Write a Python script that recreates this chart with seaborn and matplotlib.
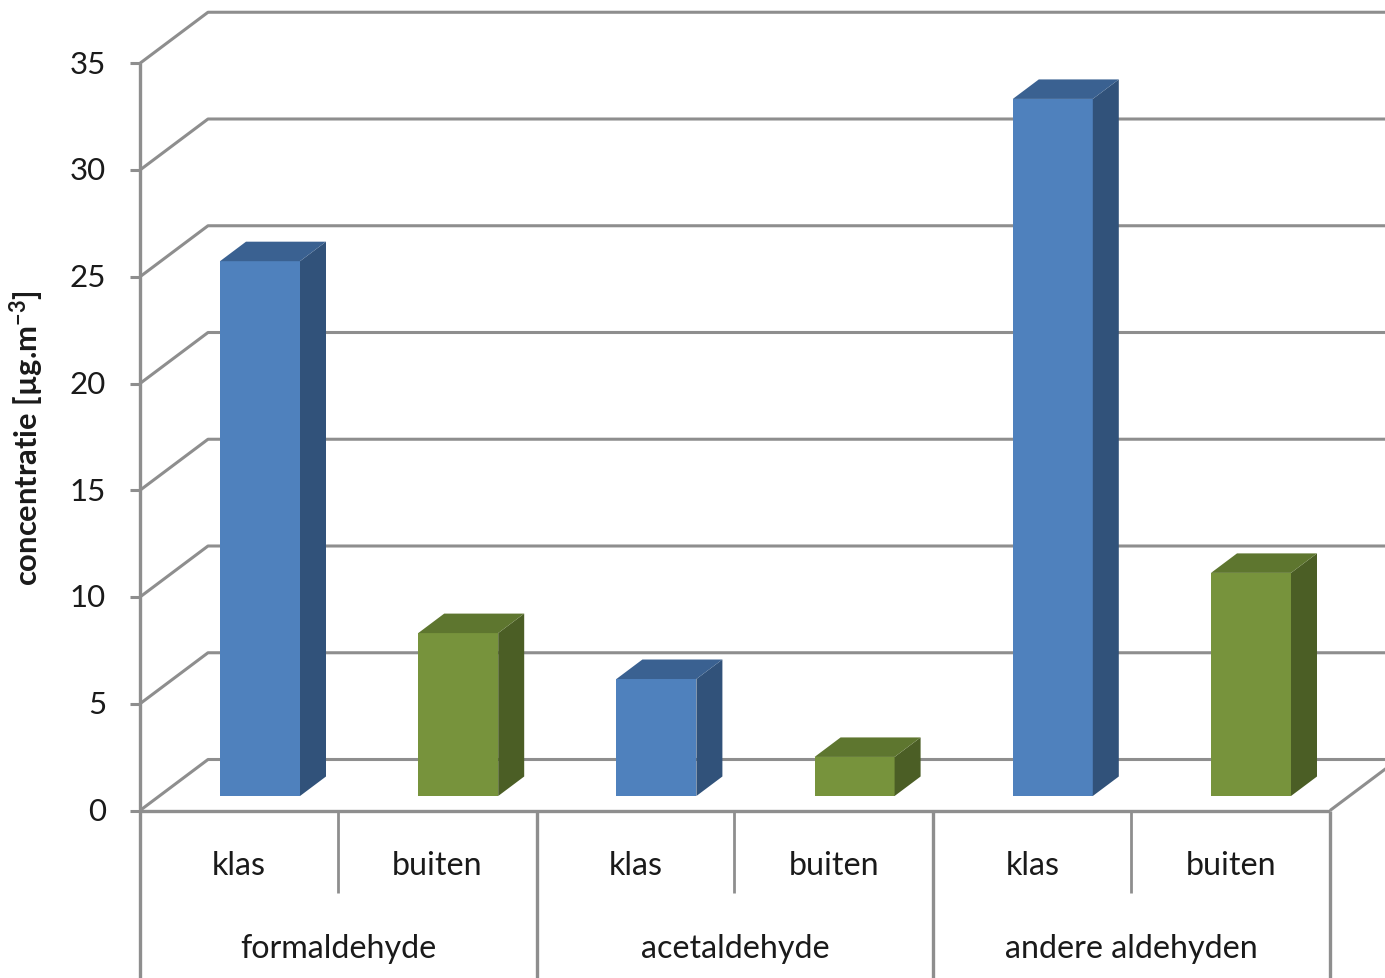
import matplotlib
matplotlib.use("Agg")
import matplotlib.pyplot as plt
import pandas as pd
import seaborn as sns
from matplotlib.patches import Polygon

# Aldehyde concentrations per location
groups = ["formaldehyde", "acetaldehyde", "andere aldehyden"]
locations = ["klas", "buiten"]
klas_values = [25.05, 5.48, 32.65]
buiten_values = [7.63, 1.83, 10.45]
y_ticks = [0, 5, 10, 15, 20, 25, 30, 35]

FRONT = {"klas": "#4F81BD", "buiten": "#77933C"}
SIDE = {"klas": "#31527A", "buiten": "#4B5E25"}
TOP = {"klas": "#3A6191", "buiten": "#5E762F"}
LINE = "#8E8E8E"
INK = "#1A1A1A"

W, H = 1385, 979
X_UNIT, Y_UNIT = 198.2, 21.35   # pixels per category / per concentration unit
X_ORIGIN, Y_ORIGIN = 260.0, 797.0  # pixel position of first bar centre and bar base

rows = []
for g, k, b in zip(groups, klas_values, buiten_values):
    rows.append({"bar": f"{g} klas", "location": "klas", "value": k})
    rows.append({"bar": f"{g} buiten", "location": "buiten", "value": b})
df = pd.DataFrame(rows)

sns.set_theme(style="white")
plt.rcParams["font.family"] = ["Lato", "DejaVu Sans"]
plt.rcParams["mathtext.default"] = "regular"

fig = plt.figure(figsize=(W / 100, H / 100), dpi=100, facecolor="white")
ax = fig.add_axes([0, 0, 1, 1])

BAR_W = 80 / X_UNIT
sns.barplot(data=df, x="bar", y="value", hue="location", palette=FRONT,
            dodge=False, width=BAR_W, legend=False, saturation=1, ax=ax, zorder=4,
            linewidth=0, edgecolor="none")

ax.set_xlim(-X_ORIGIN / X_UNIT, (W - X_ORIGIN) / X_UNIT)
ax.set_ylim((Y_ORIGIN - H) / Y_UNIT, Y_ORIGIN / Y_UNIT)
ax.axis("off")

# Depth of the bars and of the floor, in data units
bar_dx, bar_dy = 26 / X_UNIT, 19.5 / Y_UNIT
left = (140 - X_ORIGIN) / X_UNIT
right = (1330 - X_ORIGIN) / X_UNIT
floor_dx, floor_dy = 68 / X_UNIT, 51 / Y_UNIT
front_zero = -14.5 / Y_UNIT
tick_len = 10 / X_UNIT


def line(xs, ys, lw=2.2, z=2):
    ax.plot(xs, ys, color=LINE, lw=lw, zorder=z, solid_capstyle="butt", clip_on=True)


# Back wall gridlines with their diagonals running to the value axis
for t in y_ticks:
    yf = front_zero + t
    yb = yf + floor_dy
    line([left, left + floor_dx, (W - X_ORIGIN) / X_UNIT], [yf, yb, yb])
    line([left - tick_len, left], [yf, yf])
    ax.text(left - 34 / X_UNIT, yf - 0.02, str(t), ha="right", va="center",
            fontsize=22.5, color=INK)

# Value axis and floor edge
line([left, left], [front_zero + y_ticks[-1], (Y_ORIGIN - H) / Y_UNIT], lw=2.4, z=3)
line([left, right], [front_zero, front_zero], lw=2.4, z=3)
line([right, right + floor_dx * 0.82], [front_zero, front_zero + floor_dy * 0.82], lw=2.2)

# Multi-level category axis
bottom = (Y_ORIGIN - H) / Y_UNIT
row_sep = (Y_ORIGIN - 894) / Y_UNIT
for i, g in enumerate(groups):
    x0 = left + i * 2.0 * (right - left) / 6
    x1 = left + (i + 1) * 2.0 * (right - left) / 6
    xm = (x0 + x1) / 2
    line([xm - 0.004, xm - 0.004], [front_zero, row_sep], lw=2.0, z=3)
    line([x1, x1], [front_zero, bottom], lw=2.4, z=3)
    ax.text(xm, (Y_ORIGIN - 949.5) / Y_UNIT, g, ha="center", va="center", fontsize=23.2, color=INK)
    for j, loc in enumerate(locations):
        xc = x0 + (j + 0.5) * (x1 - x0) / 2
        ax.text(xc, (Y_ORIGIN - 866) / Y_UNIT, loc, ha="center", va="center",
                fontsize=23.2, color=INK)

# Extruded side and top faces of every bar
for i, row in df.iterrows():
    xl, xr = i - BAR_W / 2, i + BAR_W / 2
    v = row["value"]
    loc = row["location"]
    ax.add_patch(Polygon([(xr, 0), (xr + bar_dx, bar_dy), (xr + bar_dx, v + bar_dy), (xr, v)],
                         facecolor=SIDE[loc], edgecolor="none", zorder=4))
    ax.add_patch(Polygon([(xl, v), (xr, v), (xr + bar_dx, v + bar_dy), (xl + bar_dx, v + bar_dy)],
                         facecolor=TOP[loc], edgecolor="none", zorder=4))

ax.text((27 - X_ORIGIN) / X_UNIT, (Y_ORIGIN - 438) / Y_UNIT,
        "concentratie [µg.m$^{-3}$]", rotation=90, ha="center", va="center",
        fontsize=22.2, fontweight="bold", color=INK)

fig.savefig("out.png", dpi=100, facecolor="white")
